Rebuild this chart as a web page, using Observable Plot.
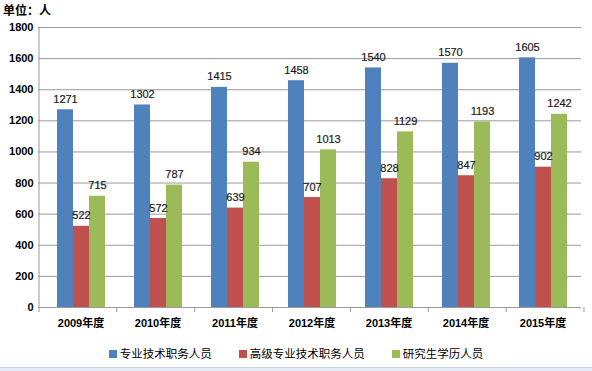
<!DOCTYPE html>
<html><head><meta charset="utf-8">
<script src="https://cdn.jsdelivr.net/npm/d3@7"></script>
<script src="https://cdn.jsdelivr.net/npm/@observablehq/plot@0.6"></script>
<style>
body{margin:0;background:#fff;font-family:"Liberation Sans","Noto Sans CJK SC",sans-serif;}
#wrap{position:relative;width:592px;height:371px;overflow:hidden;background:#fff}
#title{position:absolute;left:3px;top:1px;font-size:12px;font-weight:bold;color:#000}
#legend{position:absolute;top:346px;left:0;width:592px;display:flex;justify-content:center;gap:27px;font-size:11.5px;color:#000;line-height:16px}
#legend span.item{display:flex;align-items:center}
.sw{display:inline-block;width:8px;height:8px;margin-right:3px}
#strip{position:absolute;left:0;top:367px;width:592px;height:4px;background:#e4edf7;border-top:1px solid #c5d5e8}
#chart{position:absolute;left:0;top:0}
</style></head>
<body><div id="wrap"><div id="chart"></div><div id="title">单位：人</div><div id="legend"></div><div id="strip"></div></div>
<script>
const years = ["2009年度","2010年度","2011年度","2012年度","2013年度","2014年度","2015年度"];
const seriesNames = ["专业技术职务人员","高级专业技术职务人员","研究生学历人员"];
const professional = [1271,1302,1415,1458,1540,1570,1605];
const senior = [522,572,639,707,828,847,902];
const graduate = [715,787,934,1013,1129,1193,1242];
const colors = ["#4F81BD","#C0504D","#9BBB59"];
const yTicks = [0,200,400,600,800,1000,1200,1400,1600,1800];

const seriesValues = [professional, senior, graduate];
const data = years.flatMap((y, i) => seriesNames.map((s, j) => ({year: y, series: s, value: seriesValues[j][i]})));

const W = 592, H = 340, ML = 39, MR = 8, MT = 27, MB = 33;
const font = '"Liberation Sans","Noto Sans CJK SC",sans-serif';

const chart = Plot.plot({
  width: W, height: H,
  marginLeft: ML, marginRight: MR, marginTop: MT, marginBottom: MB,
  style: {fontFamily: font, fontSize: "11px", color: "#000", background: "transparent"},
  fx: {domain: years, padding: 0, label: null, axis: null},
  x: {domain: seriesNames, paddingInner: 0, paddingOuter: 0.79, axis: null},
  y: {domain: [0, 1800], axis: null},
  color: {domain: seriesNames, range: colors},
  marks: [
    Plot.gridY(yTicks, {stroke: "#9a9a9a", strokeOpacity: 1}),
    Plot.barY(data, {fx: "year", x: "series", y: "value", fill: "series"}),
    Plot.ruleY([0], {stroke: "#9a9a9a"}),
    Plot.axisY(yTicks, {anchor: "left", tickSize: 4, tickPadding: 5, tickFormat: d => String(d), fontWeight: "bold", fontSize: 11, stroke: "#9a9a9a", fill: "#000", label: null}),
    Plot.axisFx({anchor: "bottom", tickSize: 0, tickPadding: 12, fontWeight: "bold", fontSize: 11, fill: "#000", label: null}),
    Plot.text(data, {fx: "year", x: "series", y: "value", text: d => String(d.value), lineAnchor: "bottom", dy: -7, fontSize: 11, fill: "#1a1a1a", stroke: "#1a1a1a", strokeWidth: 0.2})
  ]
});
document.getElementById("chart").appendChild(chart);

// Excel-style axis line and category boundary ticks
const svg = d3.select(chart);
const y0 = H - MB;
svg.append("line").attr("x1", ML).attr("x2", ML).attr("y1", MT).attr("y2", y0).attr("stroke", "#9a9a9a");
const step = (W - ML - MR) / years.length;
for (let i = 0; i <= years.length; i++) {
  const x = ML + i * step;
  svg.append("line").attr("x1", x).attr("x2", x).attr("y1", y0).attr("y2", y0 + 5).attr("stroke", "#9a9a9a");
}

const legend = document.getElementById("legend");
seriesNames.forEach((s, i) => {
  const item = document.createElement("span");
  item.className = "item";
  item.innerHTML = `<span class="sw" style="background:${colors[i]}"></span>${s}`;
  legend.appendChild(item);
});
</script>
</body></html>
